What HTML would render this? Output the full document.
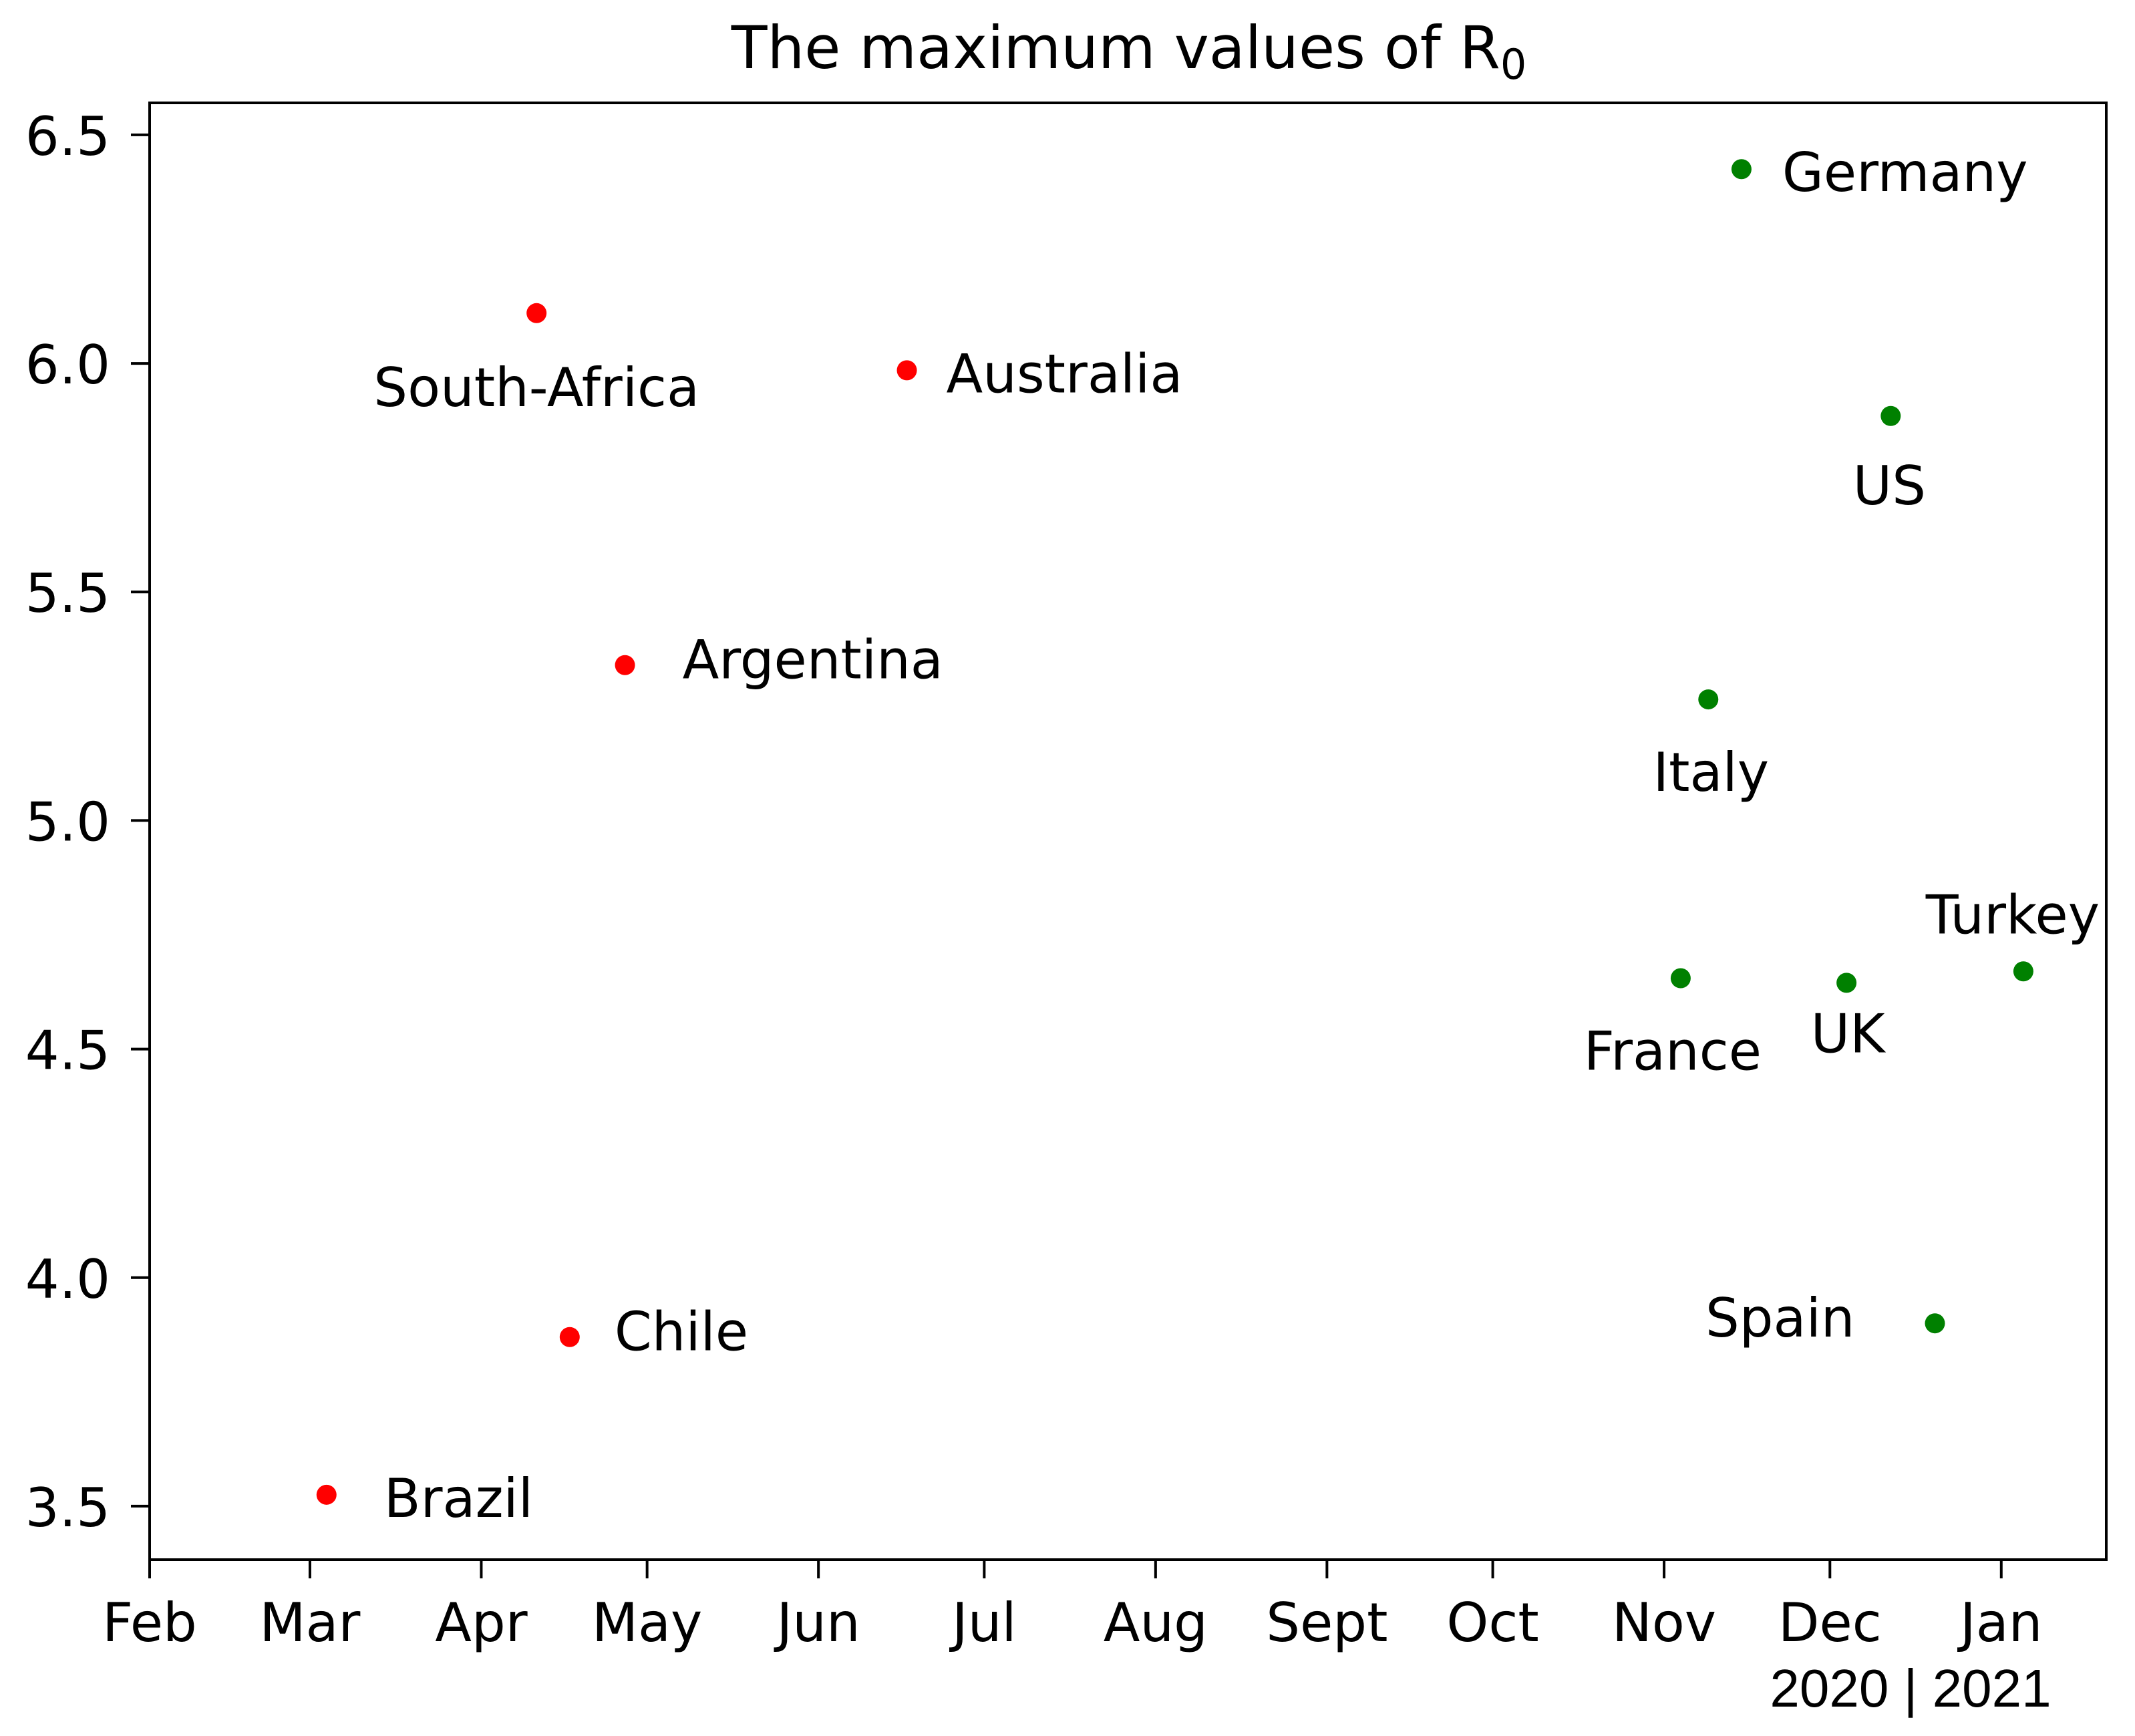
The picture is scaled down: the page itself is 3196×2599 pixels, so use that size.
<!DOCTYPE html>
<html><head><meta charset="utf-8"><style>
html,body{margin:0;padding:0;background:#fff;}
svg{display:block;font-family:"DejaVu Sans","Liberation Sans",sans-serif;}
</style></head><body>
<svg id="chart" width="3196" height="2599" viewBox="0 0 3196 2599" xmlns="http://www.w3.org/2000/svg">
<rect x="0" y="0" width="3196" height="2599" fill="#fff"/>
<text x="1690" y="102" font-size="88" text-anchor="middle">The maximum values of R<tspan font-size="62" dy="16">0</tspan></text>
<g id="plot"></g>
</svg>
<script>
// days since 2020-02-01
const countries = ["Brazil","South-Africa","Chile","Argentina","Australia","France","Italy","Germany","UK","US","Spain","Turkey"];
const peakDays = [32,70,76,86,137,277,282,288,307,315,323,339];
const r0Values = [3.525,6.11,3.87,5.34,5.985,4.655,5.265,6.425,4.645,5.885,3.90,4.67];
const groups = ["south","south","south","south","south","north","north","north","north","north","north","north"];
const monthLabels = ["Feb","Mar","Apr","May","Jun","Jul","Aug","Sept","Oct","Nov","Dec","Jan"];
const monthDays = [0,29,60,90,121,151,182,213,243,274,304,335];
const yTicks = [3.5,4.0,4.5,5.0,5.5,6.0,6.5];

const NS="http://www.w3.org/2000/svg";
const L=224,R=3153,T=154,B=2335;
const xMin=0,xMax=354,yMin=3.383,yMax=6.570;
const xs=d=>L+(d-xMin)/(xMax-xMin)*(R-L);
const ys=v=>B-(v-yMin)/(yMax-yMin)*(B-T);
const g=document.getElementById('plot');
function mk(tag,attrs){const e=document.createElementNS(NS,tag);for(const k in attrs)e.setAttribute(k,attrs[k]);g.appendChild(e);return e;}

const labelPos={"Brazil":[86,33,"start"],"South-Africa":[0,139,"middle"],"Chile":[67,20,"start"],"Argentina":[86,20,"start"],"Australia":[59,33,"start"],"France":[-12,137,"middle"],"Italy":[4,137,"middle"],"Germany":[61,33,"start"],"UK":[2,104,"middle"],"US":[-2,132,"middle"],"Spain":[-120,20,"end"],"Turkey":[-16,-57,"middle"]};

yTicks.forEach(v=>{
  const y=ys(v);
  const t=mk('line',{x1:L-28,x2:L,y1:y,y2:y,stroke:'#000','stroke-width':4});
  
  
  const tx=mk('text',{x:165,y:y+30,'font-size':80,'text-anchor':'end'});
  tx.textContent=v.toFixed(1);
  
  
});
monthDays.forEach((d,i)=>{
  const x=xs(d);
  const t=mk('line',{x1:x,x2:x,y1:B,y2:B+28,stroke:'#000','stroke-width':4});
  
  
  const tx=mk('text',{x:x,y:2457,'font-size':80,'text-anchor':'middle'});
  tx.textContent=monthLabels[i];
  
  
});
const yr=mk('text',{x:2860,y:2555,'font-size':80,'text-anchor':'middle','font-family':'Liberation Sans, sans-serif'});
yr.textContent="2020 | 2021";



const frame=mk('rect',{x:L,y:T,width:R-L,height:B-T,fill:'none',stroke:'#000','stroke-width':4});



countries.forEach((c,i)=>{
  const x=xs(peakDays[i]),y=ys(r0Values[i]);
  const dot=mk('circle',{cx:x,cy:y,r:15,fill:groups[i]==="south"?'#ff0000':'#008000'});
  
  
  const p=labelPos[c];
  const tx=mk('text',{x:x+p[0],y:y+p[1],'font-size':80,'text-anchor':p[2]});
  tx.textContent=c;
  
  
});
</script>
</body></html>
